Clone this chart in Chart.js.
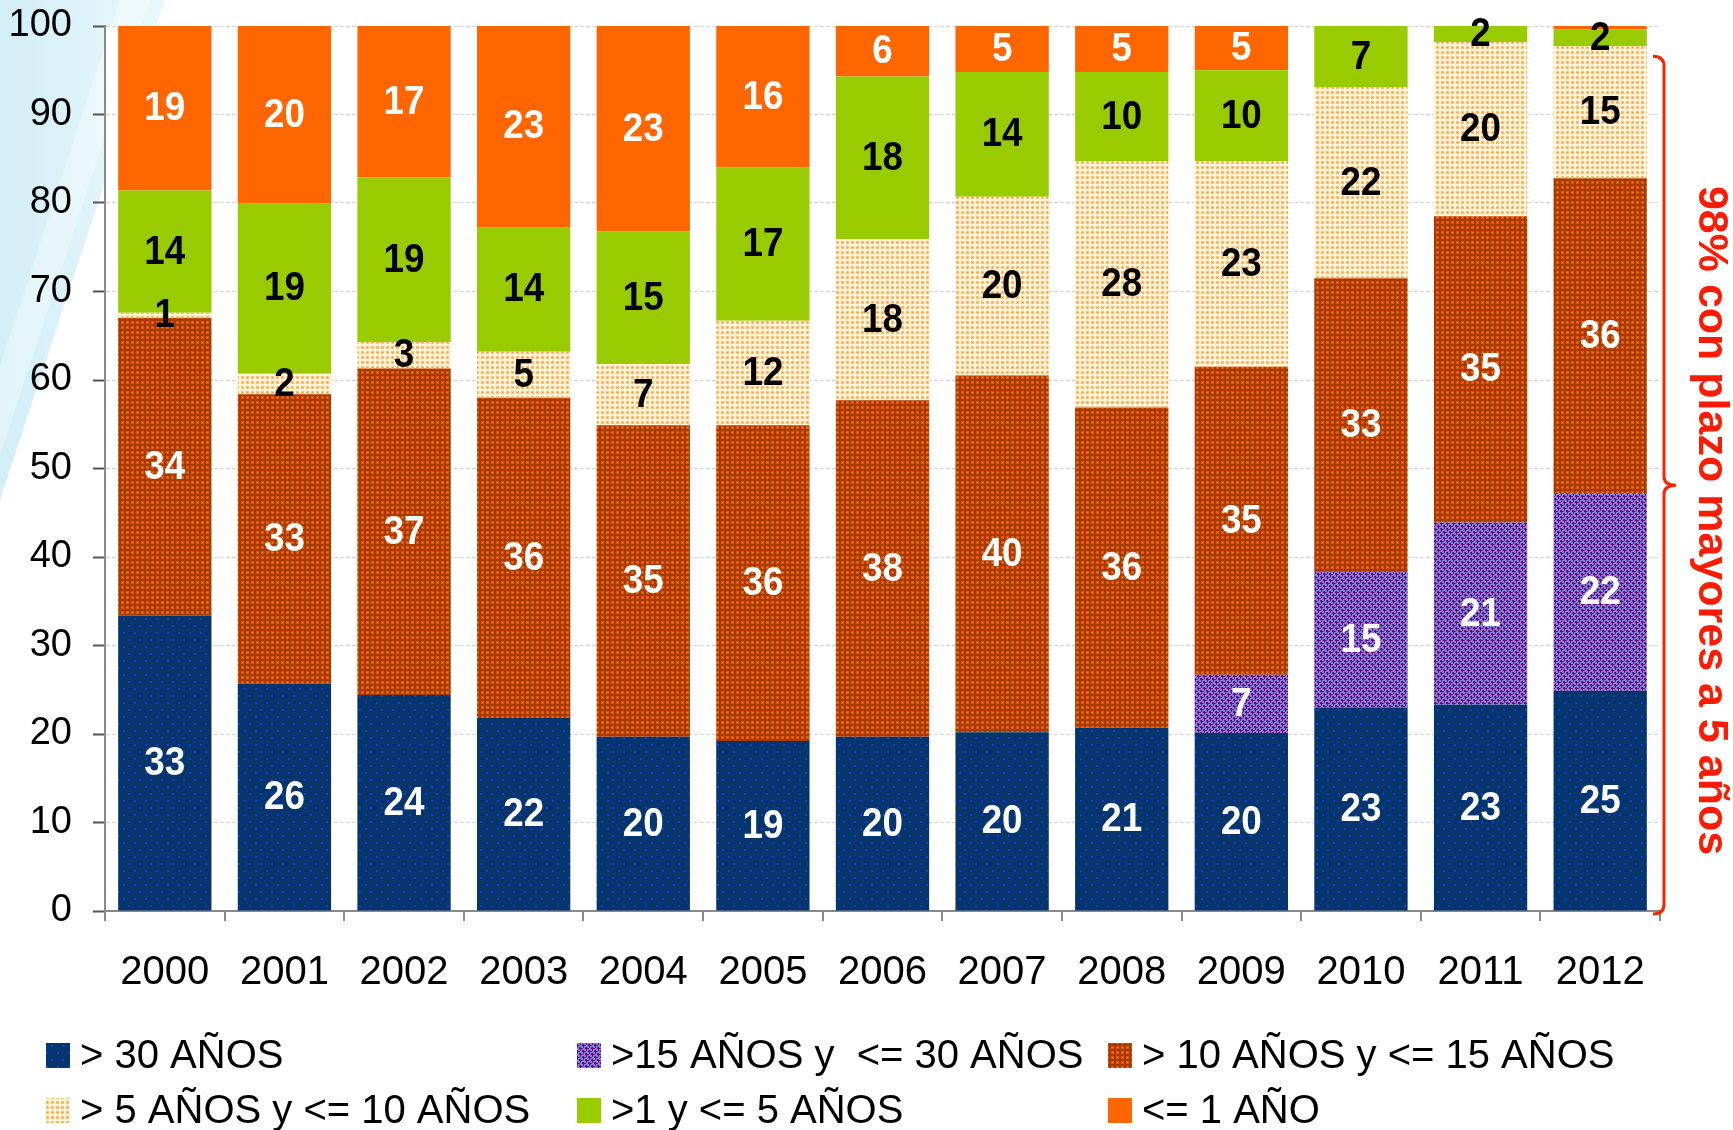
<!DOCTYPE html>
<html><head><meta charset="utf-8">
<script src="https://cdn.jsdelivr.net/npm/chart.js@4.4.0/dist/chart.umd.min.js"></script>
<style>html,body{margin:0;padding:0;background:#fff}canvas{display:block}</style>
</head><body>
<canvas id="c" width="1733" height="1130"></canvas>
<script>
// ---- data (percent of total) ----
const years = ['2000','2001','2002','2003','2004','2005','2006','2007','2008','2009','2010','2011','2012'];
const over30   = [33.4, 25.7, 24.4, 21.8, 19.7, 19.2, 19.7, 20.2, 20.7, 20.1, 23.0, 23.3, 24.9];
const y15to30  = [0, 0, 0, 0, 0, 0, 0, 0, 0, 6.6, 15.3, 20.6, 22.3];
const y10to15  = [33.6, 32.7, 36.9, 36.2, 35.2, 35.7, 38.0, 40.3, 36.2, 34.8, 33.2, 34.6, 35.6];
const y5to10   = [0.6, 2.3, 3.0, 5.2, 6.9, 11.8, 18.2, 20.2, 27.8, 23.2, 21.6, 19.7, 14.9];
const y1to5    = [13.8, 19.3, 18.6, 14.1, 15.0, 17.3, 18.4, 14.1, 10.1, 10.3, 6.9, 1.8, 1.9];
const upto1    = [18.6, 20.0, 17.1, 22.7, 23.2, 16.0, 5.7, 5.2, 5.2, 5.0, 0, 0, 0.4];
const seriesLabels = ['> 30 AÑOS', '>15 AÑOS y  <= 30 AÑOS', '> 10 AÑOS y <= 15 AÑOS',
                      '> 5 AÑOS y <= 10 AÑOS', '>1 y <= 5 AÑOS', '<= 1 AÑO'];
const yTickValues = [0, 10, 20, 30, 40, 50, 60, 70, 80, 90, 100];
const braceText = '98% con plazo mayores a 5 años';

const FONT = "'Liberation Sans', Arial, sans-serif";
const canvas = document.getElementById('c');
const mainCtx = canvas.getContext('2d');

function makePattern(w, h, draw) {
  const c = document.createElement('canvas');
  c.width = w; c.height = h;
  const x = c.getContext('2d');
  draw(x);
  return mainCtx.createPattern(c, 'repeat');
}
const patNavy = makePattern(11, 14, x => {
  x.fillStyle = '#04356B'; x.fillRect(0, 0, 11, 14);
  x.fillStyle = '#1f30f0'; x.fillRect(2, 2, 2, 2); x.fillRect(7, 9, 2, 2);
});
const patPurple = makePattern(6, 6, x => {
  x.fillStyle = '#8282da'; x.fillRect(0, 0, 6, 6);
  x.fillStyle = '#620676';
  [[1,0],[0,1],[1,1],[2,1],[1,2],[4,3],[3,4],[4,4],[5,4],[4,5]].forEach(p => x.fillRect(p[0], p[1], 1, 1));
  x.fillStyle = '#6e2a92';
  [[3,1],[0,4],[4,0],[1,3],[3,3],[0,0]].forEach(p => x.fillRect(p[0], p[1], 1, 1));
});
const patBrown = makePattern(5, 5, x => {
  x.fillStyle = '#a83a00'; x.fillRect(0, 0, 5, 5);
  x.fillStyle = '#dd5808'; x.fillRect(1, 1, 3, 3);
  x.fillStyle = '#ff7a1a'; x.fillRect(2, 2, 1, 1);
});
const patCream = makePattern(5, 5, x => {
  x.fillStyle = '#fff3d8'; x.fillRect(0, 0, 5, 5);
  x.fillStyle = '#ffc07a'; x.fillRect(1, 1, 3, 3);
  x.fillStyle = '#ff9222'; x.fillRect(2, 2, 1, 1);
});
const fills = [patNavy, patPurple, patBrown, patCream, '#99CC00', '#FF6600'];
const labelColors = ['#fff', '#fff', '#fff', '#000', '#000', '#fff'];
const seriesData = [over30, y15to30, y10to15, y5to10, y1to5, upto1];

const bgPlugin = {
  id: 'bg',
  beforeDraw(chart) {
    const ctx = chart.ctx, a = chart.chartArea;
    ctx.save();
    ctx.fillStyle = '#fff';
    ctx.fillRect(0, 0, chart.width, chart.height);
    const g = ctx.createLinearGradient(0, 0, 170, 0);
    g.addColorStop(0, '#d2eef7');
    g.addColorStop(1, '#eaf8fc');
    ctx.fillStyle = g;
    ctx.beginPath(); ctx.moveTo(0, 0); ctx.lineTo(165, 0); ctx.lineTo(0, 500); ctx.closePath(); ctx.fill();
    ctx.fillStyle = 'rgba(255,255,255,0.35)';
    ctx.beginPath(); ctx.moveTo(120, 0); ctx.lineTo(150, 0); ctx.lineTo(0, 455); ctx.lineTo(0, 365); ctx.closePath(); ctx.fill();
    ctx.fillStyle = '#fff';
    ctx.fillRect(a.left, a.top, a.right - a.left, a.bottom - a.top);
    ctx.restore();
  }
};

const valueLabels = {
  id: 'valueLabels',
  afterDatasetsDraw(chart) {
    const ctx = chart.ctx;
    ctx.save();
    ctx.font = 'bold 40px ' + FONT;
    ctx.textAlign = 'center';
    ctx.textBaseline = 'middle';
    chart.data.datasets.forEach((ds, i) => {
      const meta = chart.getDatasetMeta(i);
      meta.data.forEach((el, j) => {
        const v = ds.data[j];
        if (v < 0.5) return;
        const p = el.getProps(['x', 'y', 'base'], true);
        const cy = (p.y + p.base) / 2;
        ctx.save();
        ctx.translate(p.x, cy + 1);
        ctx.scale(0.92, 1);
        ctx.fillStyle = labelColors[i];
        ctx.fillText(String(Math.round(v)), 0, 0);
        ctx.restore();
      });
    });
    ctx.restore();
  }
};

const bracePlugin = {
  id: 'brace',
  afterDraw(chart) {
    const ctx = chart.ctx, y = chart.scales.y, a = chart.chartArea;
    const n = years.length - 1;
    const topVal = over30[n] + y15to30[n] + y10to15[n] + y5to10[n];
    const top = y.getPixelForValue(topVal) + 10, bot = y.getPixelForValue(0) + 3;
    const mid = (top + bot) / 2;
    const x0 = a.right + 4;
    ctx.save();
    ctx.strokeStyle = '#ff2200';
    ctx.lineWidth = 3;
    ctx.beginPath();
    ctx.moveTo(x0 - 11, top);
    ctx.quadraticCurveTo(x0, top, x0, top + 10);
    ctx.lineTo(x0, mid - 9);
    ctx.quadraticCurveTo(x0, mid, x0 + 12, mid);
    ctx.quadraticCurveTo(x0, mid, x0, mid + 9);
    ctx.lineTo(x0, bot - 10);
    ctx.quadraticCurveTo(x0, bot, x0 - 11, bot);
    ctx.stroke();
    ctx.translate(a.right + 51, (a.top + a.bottom) / 2 + 52);
    ctx.rotate(Math.PI / 2);
    ctx.fillStyle = '#ff1a00';
    ctx.font = 'bold 43px ' + FONT;
    ctx.textAlign = 'center';
    ctx.textBaseline = 'middle';
    ctx.fillText(braceText, 0, 0);
    ctx.restore();
  }
};

const legendPlugin = {
  id: 'gridLegend',
  afterDraw(chart) {
    const ctx = chart.ctx;
    const colX = [46, 577, 1108];
    const rowY = [1055, 1110];
    ctx.save();
    ctx.font = '40px ' + FONT;
    ctx.textBaseline = 'middle';
    ctx.textAlign = 'left';
    chart.data.datasets.forEach((ds, i) => {
      const cx = colX[i % 3], cy = rowY[Math.floor(i / 3)];
      ctx.fillStyle = ds.backgroundColor;
      ctx.fillRect(cx, cy - 12, 24, 25);
      ctx.fillStyle = '#000';
      ctx.fillText(ds.label, cx + 34, cy + 2);
    });
    ctx.restore();
  }
};

new Chart(canvas, {
  type: 'bar',
  data: {
    labels: years,
    datasets: seriesData.map((d, i) => ({
      label: seriesLabels[i],
      data: d,
      backgroundColor: fills[i],
      borderWidth: 0,
      categoryPercentage: 1.0,
      barPercentage: 0.78
    }))
  },
  options: {
    responsive: false,
    devicePixelRatio: 1,
    animation: false,
    events: [],
    layout: { padding: { left: 9, right: 73, top: 26, bottom: 133 } },
    plugins: { legend: { display: false }, tooltip: { enabled: false } },
    scales: {
      x: {
        stacked: true,
        afterFit(s) { s.height = 86; s.paddingLeft = 0; s.paddingRight = 0; },
        grid: { display: true, drawOnChartArea: false, offset: true, tickLength: 10, color: '#8a8a8a', lineWidth: 2 },
        border: { display: true, color: '#8a8a8a', width: 2 },
        ticks: { color: '#000', font: { family: FONT, size: 40 }, padding: 28, maxRotation: 0, autoSkip: false }
      },
      y: {
        stacked: true,
        min: 0, max: 100,
        afterFit(s) { s.width = 96; s.paddingTop = 0; s.paddingBottom = 0; },
        afterBuildTicks(s) { s.ticks = yTickValues.map(v => ({ value: v })); },
        grid: { color: '#d6d6d6', lineWidth: 1, tickLength: 12, tickColor: '#555', tickWidth: 2 },
        border: { display: true, color: '#8a8a8a', width: 2, dash: [4, 2] },
        ticks: { color: '#000', font: { family: FONT, size: 38 }, padding: 21 }
      }
    }
  },
  plugins: [bgPlugin, valueLabels, bracePlugin, legendPlugin]
});
</script>
</body></html>
